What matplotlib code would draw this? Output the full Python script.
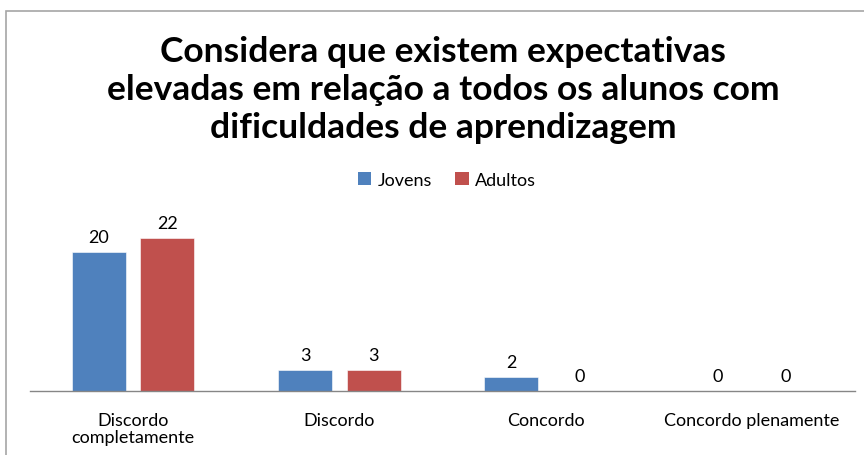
import matplotlib
matplotlib.use("Agg")
import matplotlib.pyplot as plt
from matplotlib.patches import Rectangle, Patch
import numpy as np

categories = ["Discordo\ncompletamente", "Discordo", "Concordo", "Concordo plenamente"]
series_names = ["Jovens", "Adultos"]
jovens = [20, 3, 2, 0]
adultos = [22, 3, 0, 0]
title = "Considera que existem expectativas\nelevadas em relação a todos os alunos com\ndificuldades de aprendizagem"

colors = ["#4F81BD", "#C0504D"]
font = ["Lato", "DejaVu Sans"]

fig = plt.figure(figsize=(8.64, 4.56), dpi=100)
# outer chart border
fig.patches.append(Rectangle((6/864, -0.05), 1.0, 1 - 12/456 + 0.05, transform=fig.transFigure,
                             fill=False, edgecolor="#A6A6A6", linewidth=1.2))

ax = fig.add_axes([30/864, 1 - 392/456, 825/864, 174/456])
x = np.arange(len(categories))
w = 0.262
off = 0.166
for vals, c, sgn in [(jovens, colors[0], -1), (adultos, colors[1], 1)]:
    bars = ax.bar(x + sgn*off, vals, width=w, color=c, edgecolor="white", linewidth=0.4)
    for xi, v in zip(x + sgn*off, vals):
        ax.text(xi, v + 1.0, str(v), ha="center", va="bottom", fontsize=13, family=font, color="#000000")

ax.set_xlim(-0.5, len(categories) - 0.5)
ax.set_ylim(0, 25)
ax.set_yticks([])
ax.set_xticks(x)
ax.set_xticklabels(categories, fontsize=13, family=font, linespacing=1.08)
ax.tick_params(axis="x", length=0, pad=15)
for s in ["top", "right", "left"]:
    ax.spines[s].set_visible(False)
ax.spines["bottom"].set_color("#868686")
ax.spines["bottom"].set_linewidth(1.0)

fig.text(443/864, 1 - 90/456, title, ha="center", va="center", fontsize=25.5, fontweight="bold",
         family=font, linespacing=1.25)

handles = [Patch(facecolor=c) for c in colors]
fig.legend(handles, series_names, loc="center", bbox_to_anchor=(447/864, 1 - 181/456), ncol=2,
           frameon=False, prop={"family": font, "size": 13}, handlelength=0.75, handleheight=0.75,
           handletextpad=0.35, columnspacing=1.3)

fig.savefig("out.png", dpi=100)
